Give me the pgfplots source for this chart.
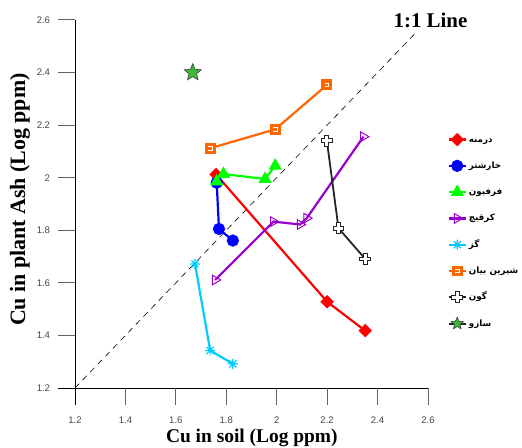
\documentclass[border=0pt]{standalone}
\usepackage{pgfplots}
\pgfplotsset{compat=1.18}
\usepackage{fontspec}
\setmainfont{Liberation Serif}
\newfontfamily\ticksf{Liberation Sans}
\newfontfamily\fa[Script=Arabic]{DejaVu Sans}
\TeXXeTstate=1

\definecolor{cpurple}{RGB}{153,0,204}
\definecolor{ccyan}{RGB}{0,204,255}
\definecolor{corange}{RGB}{255,102,0}
\definecolor{cstar}{RGB}{60,185,60}
\definecolor{tickgray}{RGB}{100,100,100}
\definecolor{labgray}{RGB}{70,70,70}
\definecolor{darkline}{RGB}{35,35,35}
\definecolor{stargray}{RGB}{60,60,60}

\pgfdeclareplotmark{ocross}{%
  \pgfpathmoveto{\pgfqpoint{-0.35\pgfplotmarksize}{\pgfplotmarksize}}%
  \pgfpathlineto{\pgfqpoint{0.35\pgfplotmarksize}{\pgfplotmarksize}}%
  \pgfpathlineto{\pgfqpoint{0.35\pgfplotmarksize}{0.35\pgfplotmarksize}}%
  \pgfpathlineto{\pgfqpoint{\pgfplotmarksize}{0.35\pgfplotmarksize}}%
  \pgfpathlineto{\pgfqpoint{\pgfplotmarksize}{-0.35\pgfplotmarksize}}%
  \pgfpathlineto{\pgfqpoint{0.35\pgfplotmarksize}{-0.35\pgfplotmarksize}}%
  \pgfpathlineto{\pgfqpoint{0.35\pgfplotmarksize}{-\pgfplotmarksize}}%
  \pgfpathlineto{\pgfqpoint{-0.35\pgfplotmarksize}{-\pgfplotmarksize}}%
  \pgfpathlineto{\pgfqpoint{-0.35\pgfplotmarksize}{-0.35\pgfplotmarksize}}%
  \pgfpathlineto{\pgfqpoint{-\pgfplotmarksize}{-0.35\pgfplotmarksize}}%
  \pgfpathlineto{\pgfqpoint{-\pgfplotmarksize}{0.35\pgfplotmarksize}}%
  \pgfpathlineto{\pgfqpoint{-0.35\pgfplotmarksize}{0.35\pgfplotmarksize}}%
  \pgfpathclose
  \pgfusepathqfillstroke}

\pgfdeclareplotmark{osq}{%
  \pgfpathrectangle{\pgfqpoint{-\pgfplotmarksize}{-\pgfplotmarksize}}{\pgfqpoint{2\pgfplotmarksize}{2\pgfplotmarksize}}%
  \pgfusepathqfill
  \pgfsetstrokecolor{white}\pgfsetlinewidth{0.7pt}%
  \pgfpathmoveto{\pgfqpoint{-0.35\pgfplotmarksize}{0.3\pgfplotmarksize}}%
  \pgfpathlineto{\pgfqpoint{0.35\pgfplotmarksize}{0.3\pgfplotmarksize}}%
  \pgfpathlineto{\pgfqpoint{0.35\pgfplotmarksize}{-0.3\pgfplotmarksize}}%
  \pgfpathlineto{\pgfqpoint{-0.35\pgfplotmarksize}{-0.3\pgfplotmarksize}}%
  \pgfusepathqstroke}

\pgfdeclareplotmark{fstar}{%
  \pgfpathmoveto{\pgfqpointpolar{90}{\pgfplotmarksize}}%
  \pgfpathlineto{\pgfqpointpolar{126}{0.45\pgfplotmarksize}}%
  \pgfpathlineto{\pgfqpointpolar{162}{\pgfplotmarksize}}%
  \pgfpathlineto{\pgfqpointpolar{198}{0.45\pgfplotmarksize}}%
  \pgfpathlineto{\pgfqpointpolar{234}{\pgfplotmarksize}}%
  \pgfpathlineto{\pgfqpointpolar{270}{0.45\pgfplotmarksize}}%
  \pgfpathlineto{\pgfqpointpolar{306}{\pgfplotmarksize}}%
  \pgfpathlineto{\pgfqpointpolar{342}{0.45\pgfplotmarksize}}%
  \pgfpathlineto{\pgfqpointpolar{18}{\pgfplotmarksize}}%
  \pgfpathlineto{\pgfqpointpolar{54}{0.45\pgfplotmarksize}}%
  \pgfpathclose
  \pgfusepathqfillstroke}

\pgfdeclareplotmark{ast8}{%
  \pgfpathmoveto{\pgfqpoint{-\pgfplotmarksize}{0pt}}\pgfpathlineto{\pgfqpoint{\pgfplotmarksize}{0pt}}%
  \pgfpathmoveto{\pgfqpoint{0pt}{-\pgfplotmarksize}}\pgfpathlineto{\pgfqpoint{0pt}{\pgfplotmarksize}}%
  \pgfpathmoveto{\pgfqpoint{-.707\pgfplotmarksize}{-.707\pgfplotmarksize}}\pgfpathlineto{\pgfqpoint{.707\pgfplotmarksize}{.707\pgfplotmarksize}}%
  \pgfpathmoveto{\pgfqpoint{-.707\pgfplotmarksize}{.707\pgfplotmarksize}}\pgfpathlineto{\pgfqpoint{.707\pgfplotmarksize}{-.707\pgfplotmarksize}}%
  \pgfusepathqstroke}

\begin{document}
\begin{tikzpicture}
\useasboundingbox (-75bp,-60bp) rectangle (447bp,388bp);
\begin{axis}[
  at={(0,0)}, anchor=south west,
  scale only axis, width=353bp, height=368bp,
  xmin=1.2, xmax=2.6, ymin=1.2, ymax=2.6,
  xtick={1.2,1.4,1.6,1.8,2,2.2,2.4,2.6},
  ytick={1.2,1.4,1.6,1.8,2,2.2,2.4,2.6},
  axis x line*=bottom, axis y line*=left,
  axis line style={-, line width=0.7pt},
  tick align=outside, major tick length=17pt,
  major tick style={tickgray, line width=1pt},
  ticklabel style={font=\ticksf\fontsize{9.6}{11}\selectfont, text=labgray},
  xticklabel style={yshift=-8pt},
  yticklabel style={xshift=-4.5pt},
  /pgf/number format/assume math mode=true,
  xlabel={Cu in soil (Log ppm)},
  ylabel={Cu in plant Ash (Log ppm)},
  xlabel style={at={(rel axis cs:0.501,0)}, anchor=center, yshift=-50bp, font=\bfseries\fontsize{19.5}{22}\selectfont},
  ylabel style={at={(rel axis cs:0,0.512)}, anchor=center, yshift=55bp, font=\bfseries\fontsize{22}{24}\selectfont},
  clip=false,
  legend style={at={(1.055,0.696)}, anchor=north west, draw=none, fill=none,
    inner sep=0pt, row sep=11.3bp, font=\fa\bfseries\fontsize{8.8}{10}\selectfont,
    nodes={text height=8bp, text depth=3bp, inner xsep=2bp}},
  legend cell align=left,
  every axis plot/.append style={line width=2.2pt},
]
% tick marks and axis-line extensions in pure axis units (17 px outward)
\pgfplotsinvokeforeach{1.2,1.4,1.6,1.8,2,2.2,2.4,2.6}{
  \draw[tickgray, line width=1pt] (axis cs:#1,1.2) -- (axis cs:#1,1.1354);
  \draw[tickgray, line width=1pt] (axis cs:1.2,#1) -- (axis cs:1.1325,#1);
}
\draw[black, line width=0.8pt] (axis cs:1.2,1.2) -- (axis cs:1.1325,1.2);
\draw[black, line width=0.8pt] (axis cs:1.2,1.2) -- (axis cs:1.2,1.1354);

\addplot[black, dash pattern=on 6bp off 5bp, line width=0.6pt, forget plot] coordinates {(1.2,1.2) (2.55,2.55)};

\addplot[red, mark=square*, mark size=3.7, mark options={rotate=45, solid}] coordinates {
  (1.76,2.012) (2.2,1.528) (2.351,1.418)};
\addlegendentry{\beginR درمنه\endR}

\addplot[blue, mark=*, mark size=5, mark options={solid}] coordinates {
  (1.762,1.981) (1.771,1.805) (1.826,1.761)};
\addlegendentry{\beginR خارشتر\endR}

\addplot[green, mark=triangle*, mark size=5.5, mark options={solid}] coordinates {
  (1.762,1.985) (1.789,2.014) (1.954,1.995) (1.994,2.045)};
\addlegendentry{\beginR فرفیون\endR}

\addplot[cpurple, mark=triangle, mark size=5.5, mark options={rotate=-90, fill=white, line width=1pt, solid}] coordinates {
  (1.756,1.611) (1.987,1.833) (2.093,1.822) (2.119,1.846) (2.344,2.156)};
\addlegendentry{\beginR کرقیچ\endR}

\addplot[ccyan, mark=ast8, mark size=5, mark options={line width=1.2pt, solid}] coordinates {
  (1.676,1.672) (1.736,1.343) (1.826,1.292)};
\addlegendentry{\beginR گز\endR}

\addplot[corange, mark=osq, mark size=5.5, mark options={solid}] coordinates {
  (1.736,2.112) (1.994,2.184) (2.199,2.353)};
\addlegendentry{\beginR شیرین بیان\endR}

\addplot[darkline, line width=1.8pt, mark=ocross, mark size=5.5, mark options={fill=white, line width=1pt, solid}] coordinates {
  (2.199,2.14) (2.245,1.808) (2.351,1.691)};
\addlegendentry{\beginR گون\endR}

\addplot[only marks, mark=fstar, mark size=9, mark options={fill=cstar, draw=stargray, line width=0.6pt}, forget plot] coordinates {
  (1.667,2.4)};
\addlegendimage{darkline, line width=2pt, mark=fstar, mark size=6.5, mark options={fill=cstar, draw=stargray, line width=0.6pt}}
\addlegendentry{\beginR سازو\endR}

\node[font=\bfseries\fontsize{21}{24}\selectfont] at (axis cs:2.61,2.6) {1:1 Line};
\end{axis}
\end{tikzpicture}
\end{document}
